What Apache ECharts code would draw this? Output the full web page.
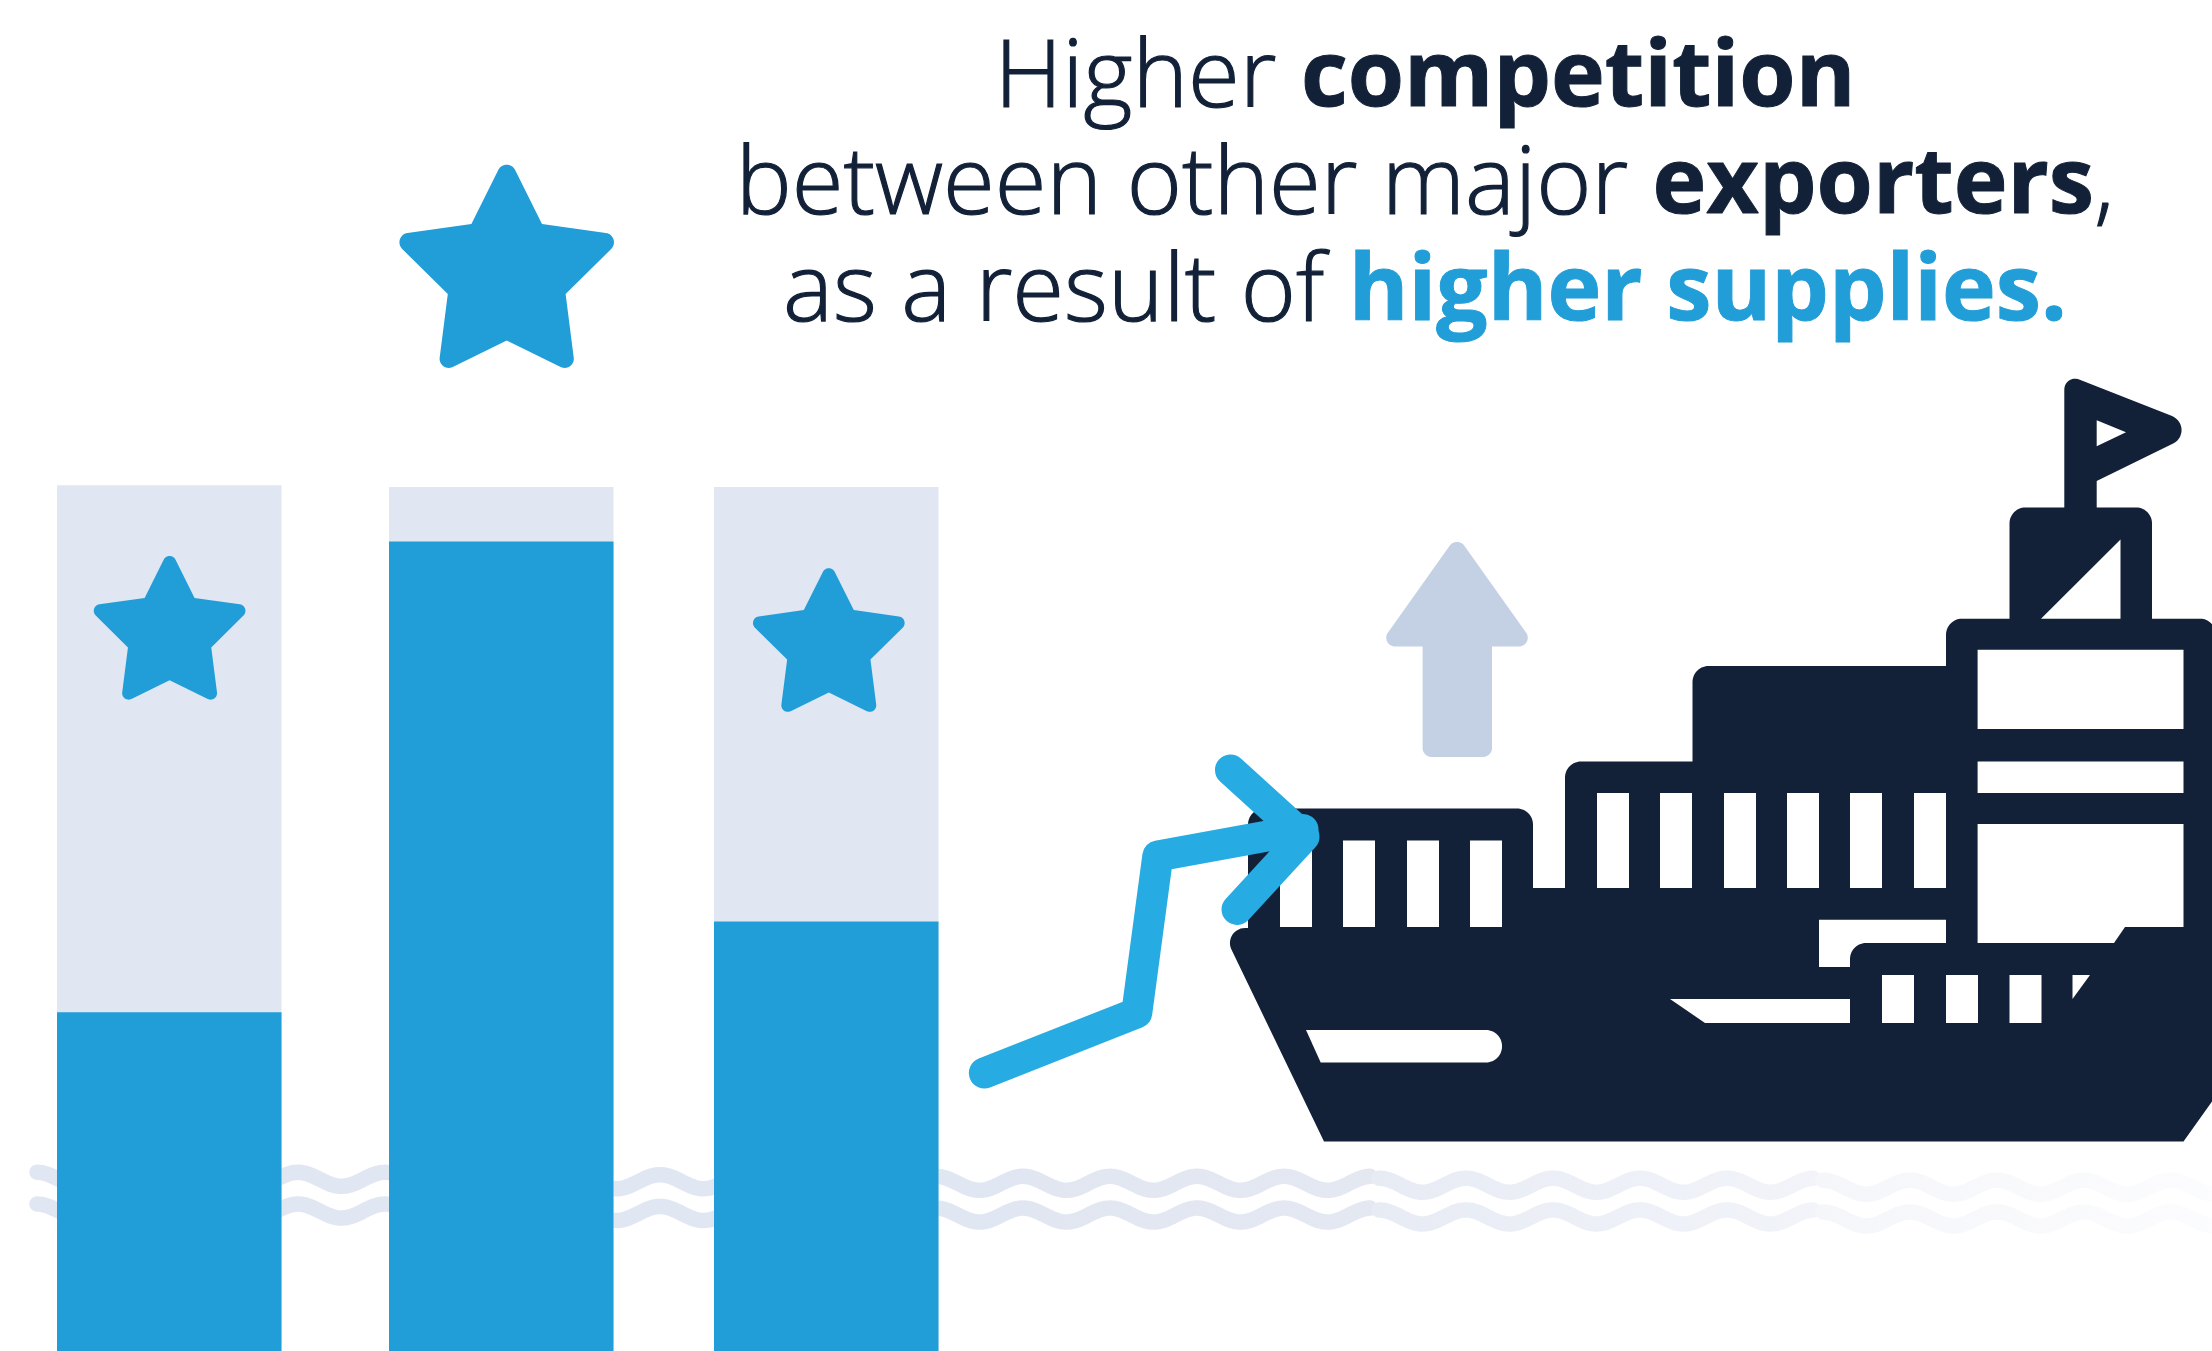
<!DOCTYPE html>
<html><head><meta charset="utf-8">
<style>html,body{margin:0;padding:0;background:#fff}#c{width:2212px;height:1351px}</style>
<script src="https://cdn.jsdelivr.net/npm/echarts@6/dist/echarts.min.js"></script>
</head><body><div id="c"></div>
<script>
// ---- data (share of the full bar height) ----
const categories = ['Exporter 1', 'Exporter 2', 'Exporter 3'];
const supplyValues = [39.2, 93.7, 49.7];
const capacityValues = [100.2, 100, 100];
// ---- layout ----
const barLefts = [57, 389, 714];
const barW = 224.5;
const INK = '#122138', BLUE = '#219dd8', ARROW = '#26abe2', TRACK = '#e0e6f2', UP = '#c4d1e5';
const ART_DY = 1; // vertical nudge of the illustration

// polygon with true circular corners; third value = tangent length of the corner
function roundPoly(pts) {
  const n = pts.length, out = [];
  for (let i = 0; i < n; i++) {
    const [x, y, d = 0] = pts[i];
    if (!d) { out.push([x, y]); continue; }
    const p = pts[(i + n - 1) % n], q = pts[(i + 1) % n];
    const lp = Math.hypot(p[0] - x, p[1] - y), lq = Math.hypot(q[0] - x, q[1] - y);
    const ux = (p[0] - x) / lp, uy = (p[1] - y) / lp, vx = (q[0] - x) / lq, vy = (q[1] - y) / lq;
    const half = Math.acos(ux * vx + uy * vy) / 2;
    const rho = d * Math.tan(half), dist = rho / Math.sin(half);
    let bx = ux + vx, by = uy + vy; const bl = Math.hypot(bx, by); bx /= bl; by /= bl;
    const cx = x + bx * dist, cy = y + by * dist;
    let a0 = Math.atan2(y + uy * d - cy, x + ux * d - cx), a1 = Math.atan2(y + vy * d - cy, x + vx * d - cx);
    let da = a1 - a0; while (da > Math.PI) da -= 2 * Math.PI; while (da < -Math.PI) da += 2 * Math.PI;
    for (let k = 0; k <= 14; k++) {
      const a = a0 + da * k / 14;
      out.push([cx + rho * Math.cos(a), cy + rho * Math.sin(a)]);
    }
  }
  return out;
}
const shape = (pts, fill, z) => ({ type: 'polygon', z, y: ART_DY, shape: { points: roundPoly(pts) }, style: { fill } });
const rect = (x0, y0, x1, y1) => shape([[x0, y0], [x1, y0], [x1, y1], [x0, y1]], '#fff', 21);

const starOutline = [
  [0, -126, 18.9], [35.3, -55, 0], [118, -43.4, 19], [58.9, 15, 0], [69.2, 95.5, 17], [0, 61.4, 0],
  [-69.2, 95.5, 17], [-58.9, 15, 0], [-118, -43.4, 19], [-35.3, -55, 0]
];
const star = (cx, cy, s) => shape(starOutline.map(p => [cx + p[0] * s, cy + p[1] * s, p[2] * s]), BLUE, 30);

function wave(startX, crestY, n, c0, c1) {
  const P = 87, A = 14, pts = [];
  for (let x = 0; x <= n * P; x += 2) {
    pts.push([startX + x, crestY + A * (1 - Math.cos(2 * Math.PI * x / P)) / 2]);
  }
  return { type: 'polyline', z: 1, y: 0.5, shape: { points: pts },
    style: { fill: 'none', lineWidth: 15.5, lineCap: 'round', lineJoin: 'round',
      stroke: { type: 'linear', x: 0, y: 0, x2: 1, y2: 0, colorStops: [{ offset: 0, color: c0 }, { offset: 1, color: c1 }] } } };
}
const waveSegs = [
  [37, 1171.8, TRACK, TRACK], [486, 1174.2, TRACK, TRACK], [936, 1175.8, TRACK, '#e4e8f1'],
  [1379, 1177.7, '#e7ebf4', '#f2f4f9'], [1823, 1179.7, '#f5f6fa', '#fdfdfe']
];
const waves = [];
waveSegs.forEach(s => { [0, 31.75].forEach(dy => waves.push(wave(s[0], s[1] + dy, 5, s[2], s[3]))); });

const hull = [
  [2064.3, 372.5, 16], [2203.7, 427.6, 34], [2096.7, 480], [2096.7, 506.4], [2152, 506.4, 16], [2152, 617.7],
  [2216, 617.7, 16], [2216, 1095], [2183.5, 1140.6], [1324, 1140.6], [1221, 927, 24], [1248, 927],
  [1248, 807.5, 16], [1533, 807.5, 16], [1533, 887], [1565, 887], [1565, 760.5, 16], [1692.5, 760.5],
  [1692.5, 665, 16], [1946, 665], [1946, 617.7, 16], [2009.5, 617.7], [2009.5, 506.4, 16], [2064.3, 506.4]
];
const ship = [shape(hull, INK, 20)];
ship.push(shape([[2096.7, 419.3], [2126, 431.3], [2096.7, 445.3]], '#fff', 21));
ship.push(shape([[2120.5, 538.6], [2120.5, 617.7], [2041, 617.7]], '#fff', 21));
ship.push(rect(1977.6, 648.8, 2183.5, 728), rect(1977.6, 760.5, 2183.5, 792));
ship.push(shape([[1977.6, 823], [2183.5, 823], [2183.5, 926], [2125, 926], [2114, 942], [1977.6, 942]], '#fff', 21));
[1597, 1660, 1724, 1787, 1850, 1914].forEach(x => ship.push(rect(x, 792, x + 32, 887)));
[1280, 1343, 1407, 1470].forEach(x => ship.push(rect(x, 839.6, x + 32, 926)));
[1882, 1946, 2009.5].forEach(x => ship.push(rect(x, 974, x + 32, 1022)));
ship.push(shape([[2072.5, 974], [2090, 974], [2072.5, 998]], '#fff', 21));
ship.push(shape([[1819, 918.7], [1946, 918.7], [1946, 942], [1850, 942, 16], [1850, 966], [1819, 966]], '#fff', 21));
ship.push(shape([[1670, 998], [1850, 998], [1850, 1022], [1705, 1022]], '#fff', 21));
ship.push(shape([[1306, 1029], [1502, 1029, 16], [1502, 1061.5, 16], [1320.7, 1061.5]], '#fff', 21));

const upArrow = shape([[1457, 534.3, 13], [1536, 645.5, 17], [1492, 645.5], [1492, 756, 9], [1422.6, 756, 9], [1422.6, 645.5], [1378, 645.5, 17]], UP, 15);

const trend = c => ({ type: 'polyline', z: 25, y: ART_DY, shape: { points: c },
  style: { fill: 'none', stroke: ARROW, lineWidth: 31, lineCap: 'round', lineJoin: 'round' } });
const arrows = [
  trend([[984.4, 1072], [1136.8, 1011.8], [1157.8, 855], [1303, 828.5]]),
  trend([[1230.5, 769], [1304, 835.7], [1237, 908.4]])
];

const grids = barLefts.map(l => ({ left: l, width: barW, top: 478.4, bottom: 0 }));
const series = [];
categories.forEach((c, i) => {
  series.push({ type: 'bar', xAxisIndex: i, yAxisIndex: i, data: [capacityValues[i]], barWidth: '100%', barGap: '-100%',
    itemStyle: { color: TRACK }, silent: true, z: 3 });
  series.push({ type: 'bar', xAxisIndex: i, yAxisIndex: i, data: [supplyValues[i]], barWidth: '100%', barGap: '-100%',
    itemStyle: { color: BLUE }, silent: true, z: 4 });
});

const chart = echarts.init(document.getElementById('c'), null, { renderer: 'canvas', width: 2212, height: 1351 });
chart.setOption({
  animation: false,
  backgroundColor: '#fff',
  title: {
    left: 1420, top: 22, textAlign: 'center',
    text: '{r|Higher }{b|competition}\n{r|between other major }{b|exporters}{r|,}\n{r|as a result of }{h|higher supplies.}',
    textStyle: {
      rich: {
        r: { fontFamily: 'Open Sans', fontWeight: 300, fontSize: 94.2, lineHeight: 107, color: INK, textBorderColor: INK, textBorderWidth: 1.2 },
        b: { fontFamily: 'Open Sans', fontWeight: 700, fontSize: 91, lineHeight: 107, color: INK, textBorderColor: INK, textBorderWidth: 1 },
        h: { fontFamily: 'Open Sans', fontWeight: 700, fontSize: 91, lineHeight: 107, color: BLUE, textBorderColor: BLUE, textBorderWidth: 1 }
      }
    }
  },
  grid: grids,
  xAxis: categories.map((c, i) => ({ type: 'category', gridIndex: i, data: [c], show: false })),
  yAxis: categories.map((c, i) => ({ type: 'value', gridIndex: i, min: 0, max: 101, show: false })),
  series,
  graphic: { elements: [...waves, star(506.7, 278, 1), star(169.6, 635.8, 0.707), star(828.8, 648, 0.707), upArrow, ...ship, ...arrows] }
});
</script></body></html>
